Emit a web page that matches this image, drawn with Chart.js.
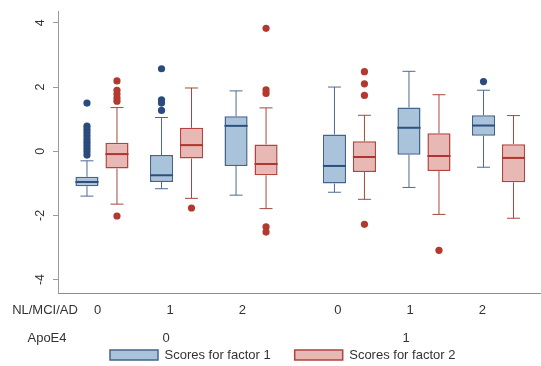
<!DOCTYPE html>
<html>
<head>
<meta charset="utf-8">
<script src="https://cdn.jsdelivr.net/npm/chart.js@4.4.1/dist/chart.umd.min.js"></script>
<style>
  html, body { margin: 0; padding: 0; background: #fff; }
</style>
</head>
<body>
<canvas id="boxChart" width="541" height="366"></canvas>
<script>
// groups: ApoE4 status x diagnosis (NL/MCI/AD)
const apoe = [0, 0, 0, 1, 1, 1];
const diag = [0, 1, 2, 0, 1, 2];
const diagLabels = ['0', '1', '2'];
const apoeLabels = ['0', '1'];
const rowTitles = ['NL/MCI/AD', 'ApoE4'];
const yTicks = [-4, -2, 0, 2, 4];
const seriesNames = ['Scores for factor 1', 'Scores for factor 2'];

// factor 1: whisker ends, quartiles, median, outliers per group
const f1Lo = [-1.40, -1.17, -1.37, -1.28, -1.13, -0.50];
const f1Q1 = [-1.09, -0.96, -0.46, -1.01, -0.11, 0.48];
const f1Med = [-0.96, -0.75, 0.79, -0.46, 0.73, 0.80];
const f1Q3 = [-0.80, -0.12, 1.09, 0.52, 1.36, 1.12];
const f1Hi = [-0.30, 1.05, 1.88, 2.00, 2.49, 1.90];
const f1Out = [
  [1.50, 0.78, 0.68, 0.58, 0.48, 0.38, 0.28, 0.18, 0.08, -0.02, -0.12],
  [2.57, 1.60, 1.50, 1.27],
  [], [], [],
  [2.17]
];

// factor 2
const f2Lo = [-1.65, -1.47, -1.79, -1.50, -1.97, -2.09];
const f2Q1 = [-0.54, -0.23, -0.75, -0.65, -0.62, -0.97];
const f2Med = [-0.09, 0.19, -0.40, -0.18, -0.15, -0.21];
const f2Q3 = [0.26, 0.73, 0.21, 0.31, 0.56, 0.22];
const f2Hi = [1.36, 1.97, 1.35, 1.12, 1.76, 1.11];
const f2Out = [
  [2.19, 1.90, 1.78, 1.66, 1.56, -2.02],
  [-1.77],
  [3.83, 1.91, 1.80, -2.36, -2.52],
  [2.48, 2.10, 1.74, -2.28],
  [-3.09],
  []
];

const GAP = 0.32; // extra space between the two ApoE4 blocks
const pos = i => apoe[i] * (3 + GAP) + diag[i];

const stats = [
  { lo: f1Lo, med: f1Med, hi: f1Hi, out: f1Out, line: '#4d6b8e', medColor: '#2c4f7c', dot: '#2b4a7e' },
  { lo: f2Lo, med: f2Med, hi: f2Hi, out: f2Out, line: '#a8463f', medColor: '#b0342f', dot: '#b3392f' }
];

const FONT = "'Liberation Sans', Arial, sans-serif";
Chart.defaults.font.family = FONT;

// whiskers, medians and outliers on top of the floating bars
const boxExtras = {
  id: 'boxExtras',
  afterDatasetsDraw(chart) {
    const ctx = chart.ctx;
    const y = chart.scales.y;
    chart.data.datasets.forEach((ds, di) => {
      const s = stats[di];
      chart.getDatasetMeta(di).data.forEach((bar, i) => {
        const cx = bar.x, half = bar.width / 2, cap = bar.width * 0.28;
        const yTop = Math.min(bar.y, bar.base), yBot = Math.max(bar.y, bar.base);
        const yHi = y.getPixelForValue(s.hi[i]), yLo = y.getPixelForValue(s.lo[i]);
        ctx.save();
        ctx.strokeStyle = s.line;
        ctx.lineWidth = 1;
        ctx.beginPath();
        ctx.moveTo(cx, yTop); ctx.lineTo(cx, yHi);
        ctx.moveTo(cx - cap, yHi); ctx.lineTo(cx + cap, yHi);
        ctx.moveTo(cx, yBot); ctx.lineTo(cx, yLo);
        ctx.moveTo(cx - cap, yLo); ctx.lineTo(cx + cap, yLo);
        ctx.stroke();
        ctx.strokeStyle = s.medColor;
        ctx.lineWidth = 2;
        const ym = y.getPixelForValue(s.med[i]);
        ctx.beginPath();
        ctx.moveTo(cx - half, ym); ctx.lineTo(cx + half, ym);
        ctx.stroke();
        ctx.fillStyle = s.dot;
        s.out[i].forEach(v => {
          ctx.beginPath();
          ctx.arc(cx, y.getPixelForValue(v), 3.6, 0, Math.PI * 2);
          ctx.fill();
        });
        ctx.restore();
      });
    });
  }
};

// rotated y labels and the two rows of x labels
const axisText = {
  id: 'axisText',
  afterLayout(chart) {
    // nudge the legend to where the original sits
    const lg = chart.legend;
    const pad = lg.options.labels.padding;
    const startX = (lg.left + pad + lg.right - lg.lineWidths[0]) / 2;
    const dx = 110 - startX;
    const dy = 355 - (lg.top + pad + 13 / 2);
    lg.left += dx; lg.right += dx;
    lg.top += dy; lg.bottom += dy;
  },
  afterDraw(chart) {
    const ctx = chart.ctx;
    const y = chart.scales.y, xl = chart.scales.xl;
    ctx.save();
    ctx.fillStyle = '#333';
    ctx.textAlign = 'center';
    ctx.textBaseline = 'middle';
    ctx.font = '12.5px ' + FONT;
    yTicks.forEach(v => {
      ctx.save();
      ctx.translate(41, y.getPixelForValue(v));
      ctx.rotate(-Math.PI / 2);
      ctx.fillText(String(v), 0, 0);
      ctx.restore();
    });
    ctx.font = '13px ' + FONT;
    ctx.fillText(rowTitles[0], 45, 310);
    diag.forEach((d, i) => ctx.fillText(diagLabels[d], xl.getPixelForValue(pos(i)), 310));
    ctx.fillText(rowTitles[1], 47, 338);
    apoeLabels.forEach((lab, a) => ctx.fillText(lab, xl.getPixelForValue(a * (3 + GAP) + 1) - 4, 338));
    ctx.restore();
  }
};

const boxData = (q1, q3) => apoe.map((a, i) => ({ x: pos(i), y: [q1[i], q3[i]] }));

new Chart(document.getElementById('boxChart'), {
  type: 'bar',
  data: {
    datasets: [
      {
        label: seriesNames[0],
        data: boxData(f1Q1, f1Q3),
        backgroundColor: '#a9c3db',
        borderColor: '#44648c',
        borderWidth: 1.5,
        borderSkipped: false
      },
      {
        label: seriesNames[1],
        data: boxData(f2Q1, f2Q3),
        backgroundColor: '#e8b8b4',
        borderColor: '#b2433f',
        borderWidth: 1.5,
        borderSkipped: false
      }
    ]
  },
  options: {
    responsive: false,
    animation: false,
    devicePixelRatio: 1,
    categoryPercentage: 0.805,
    barPercentage: 0.77,
    layout: { padding: { top: 11, left: 0, right: 0, bottom: 0 } },
    plugins: {
      tooltip: { enabled: false },
      legend: {
        position: 'bottom',
        labels: {
          boxWidth: 48,
          boxHeight: 10,
          padding: 24,
          color: '#333',
          font: { size: 13, family: FONT }
        }
      }
    },
    scales: {
      x: {
        type: 'linear',
        min: -0.59,
        max: 5.89,
        offset: false,
        afterBuildTicks: s => { s.ticks = apoe.map((a, i) => ({ value: pos(i) })); },
        afterFit: s => { s.height = 26; },
        ticks: { display: false },
        grid: { display: false },
        border: { display: true, color: '#8c8c8c', width: 1 }
      },
      xl: {
        type: 'linear',
        position: 'bottom',
        display: false,
        offset: false,
        min: -0.549,
        max: 6.13
      },
      y: {
        min: -4.42,
        max: 4.37,
        afterBuildTicks: s => { s.ticks = yTicks.map(v => ({ value: v })); },
        afterFit: s => { s.width = 58; },
        ticks: { display: false },
        grid: { display: true, drawOnChartArea: false, drawTicks: true, tickLength: 5, color: '#999' },
        border: { display: true, color: '#999', width: 1 }
      }
    }
  },
  plugins: [boxExtras, axisText]
});
</script>
</body>
</html>
